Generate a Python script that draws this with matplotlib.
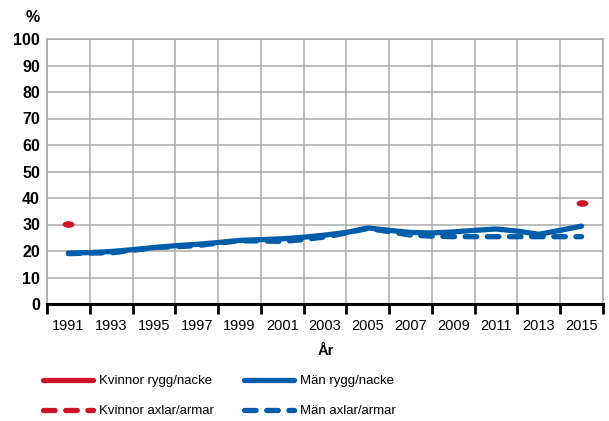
import numpy as np
import matplotlib
matplotlib.use('Agg')
import matplotlib.pyplot as plt
from matplotlib.ticker import MultipleLocator, FixedLocator, FixedFormatter

nan = np.nan

# Data
years = list(range(1991, 2016))
kvinnor_rygg = [30.2] + [nan] * 23 + [38.3]
kvinnor_axlar = [nan] * 25
man_rygg = [19.2, 19.4, 19.8, 20.5, 21.3, 22.0, 22.5, 23.2, 24.0, 24.3, 24.6, 25.2, 26.0,
            27.0, 28.7, 27.8, 27.0, 26.8, 27.2, 27.8, 28.3, 27.5, 26.3, 27.8, 29.4]
man_axlar = [19.0, 19.2, 19.3, 20.2, 21.3, 21.6, 22.0, 23.0, 23.8, 23.8, 23.6, 24.3, 25.3,
             26.8, 28.5, 27.3, 26.0, 25.6, 25.4, 25.4, 25.4, 25.4, 25.4, 25.4, 25.4]
labels = ['Kvinnor rygg/nacke', 'Kvinnor axlar/armar', 'Män rygg/nacke', 'Män axlar/armar']
label_years = list(range(1991, 2016, 2))

RED = '#CC1424'
BLUE = '#005DAA'
GRID = '#AAAAAA'

plt.rcParams['font.family'] = ['Liberation Sans', 'DejaVu Sans']

W, H = 609, 421
fig = plt.figure(figsize=(W / 100, H / 100), dpi=100)
ax = fig.add_axes([47 / W, 1 - 304 / H, (603 - 47) / W, (304 - 39) / H])

lw = 3.8
dash = (2.2, 2.0)
ax.plot(years, kvinnor_rygg, color=RED, lw=lw, solid_capstyle='round', label=labels[0])
ax.plot(years, kvinnor_axlar, color=RED, lw=lw, dashes=dash, dash_capstyle='round', label=labels[1])
ax.plot(years, man_rygg, color=BLUE, lw=lw, solid_capstyle='round', solid_joinstyle='round',
        label=labels[2])
ax.plot(years, man_axlar, color=BLUE, lw=lw, dashes=dash, dash_capstyle='round',
        dash_joinstyle='round', label=labels[3])

# single survey points drawn as short pills
t = np.linspace(0, 2 * np.pi, 40)
pill = np.column_stack([np.cos(t), 0.5 * np.sin(t)])
ax.plot(years, kvinnor_rygg, linestyle='none', marker=pill, markersize=7.5,
        color=RED, label='_nolegend_')

ax.set_xlim(1990, 2016)
ax.set_ylim(0, 100)
ax.set_axisbelow(True)

ax.xaxis.set_major_locator(FixedLocator(list(range(1990, 2017, 2))))
ax.xaxis.set_major_formatter(FixedFormatter([]))
ax.xaxis.set_minor_locator(FixedLocator(label_years))
ax.xaxis.set_minor_formatter(FixedFormatter([str(y) for y in label_years]))
ax.tick_params(axis='x', which='major', length=7, width=2, color='black', direction='out')
ax.tick_params(axis='x', which='minor', length=0, pad=11, labelsize=10.5)

ax.yaxis.set_major_locator(MultipleLocator(10))
ax.tick_params(axis='y', length=0, pad=5, labelsize=11.5)
for lab in ax.get_yticklabels():
    lab.set_fontweight('bold')

ax.grid(True, which='major', color=GRID, lw=1.1)
for side in ['top', 'right', 'left']:
    ax.spines[side].set_color(GRID)
    ax.spines[side].set_linewidth(1.1)
ax.spines['bottom'].set_color('black')
ax.spines['bottom'].set_linewidth(2.2)

fig.text(33 / W, 1 - 18 / H, '%', ha='center', va='center', fontsize=11.5, fontweight='bold')
fig.text(326 / W, 1 - 351 / H, 'År', ha='center', va='center', fontsize=10.5, fontweight='bold')

leg = fig.legend(loc='upper left', bbox_to_anchor=(43 / W, 1 - 375 / H), ncols=2, frameon=False,
                 borderpad=0, borderaxespad=0, handlelength=3.8, handletextpad=0.45,
                 columnspacing=2.3, labelspacing=1.35, fontsize=9.5)

fig.savefig('out.png', dpi=100)
